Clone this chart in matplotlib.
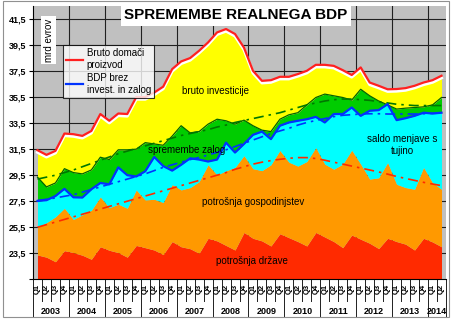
import matplotlib
matplotlib.use("Agg")
import matplotlib.pyplot as plt
import matplotlib.patheffects as pe
from matplotlib.patches import Rectangle
from matplotlib.lines import Line2D
import numpy as np

plt.rcParams["font.family"] = ["Liberation Sans", "DejaVu Sans"]

# --- data (mrd evrov, cumulative levels) ---
years = ["2003", "2004", "2005", "2006", "2007", "2008",
         "2009", "2010", "2011", "2012", "2013", "2014"]
quarters = ["Q1", "Q2", "Q3", "Q4"] * 11 + ["Q1", "Q2"]

# top of "potrošnja države"
drzava = [23.37, 23.2, 22.85, 23.7, 23.55, 23.35, 23.04, 24.0, 23.73, 23.55,
          23.2, 24.1, 23.93, 23.75, 23.4, 24.4, 24.0, 23.85, 23.5, 24.65,
          24.45, 24.1, 23.75, 25.1, 24.65, 24.45, 24.06, 25.0, 24.7, 24.4,
          24.06, 25.1, 24.75, 24.4, 23.93, 24.9, 24.58, 24.27, 23.86, 24.65,
          24.4, 24.2, 23.75, 24.65, 24.37, 24.0]
# top of "potrošnja gospodinjstev"
gospodinjstva = [25.52, 25.85, 26.3, 26.96, 26.1, 26.45, 26.8, 27.83, 27.0, 27.27,
                 26.96, 28.37, 27.6, 27.65, 27.4, 28.78, 28.37, 28.55, 29.0, 30.3,
                 29.52, 29.83, 30.1, 31.0, 30.0, 29.85, 30.3, 31.4, 30.5, 30.2,
                 30.55, 31.62, 30.35, 29.96, 30.35, 31.42, 30.35, 29.2, 29.3, 30.47,
                 28.8, 28.55, 28.42, 30.1, 28.93, 28.42]
# top of "saldo menjave s tujino" = BDP brez invest. in zalog
bdp_brez = [27.52, 27.58, 27.9, 28.45, 27.8, 27.78, 28.42, 28.9, 28.8, 30.1,
            29.5, 29.4, 29.8, 30.9, 30.2, 29.85, 30.3, 30.8, 30.7, 30.55,
            30.7, 32.0, 31.24, 31.9, 32.6, 32.85, 32.27, 33.3, 33.55, 33.68,
            33.8, 33.98, 33.55, 34.2, 34.2, 34.7, 34.06, 34.45, 34.5, 34.96,
            33.73, 33.88, 34.06, 34.3, 34.24, 34.3]
# top of "spremembe zalog"
zaloge = [29.35, 28.6, 28.9, 30.0, 29.7, 29.6, 29.9, 30.88, 30.7, 31.45,
          31.45, 31.5, 32.0, 31.9, 31.8, 32.5, 33.3, 32.75, 32.85, 33.42,
          33.8, 33.68, 33.42, 33.73, 33.3, 32.96, 32.85, 33.8, 34.14, 34.3,
          34.9, 35.47, 35.73, 35.6, 35.47, 35.27, 36.1, 35.6, 35.2, 34.9,
          34.58, 34.65, 34.7, 34.75, 34.9, 35.47]
# Bruto domači proizvod (top of "bruto investicije")
bdp = [31.42, 31.06, 31.37, 32.7, 32.65, 32.52, 32.9, 34.2, 33.68, 34.24,
       34.2, 35.5, 35.5, 35.85, 36.3, 37.65, 38.24, 38.5, 39.06, 39.7,
       40.47, 40.73, 40.35, 39.3, 37.52, 36.75, 36.8, 37.06, 37.06, 37.27,
       37.52, 37.98, 37.98, 37.9, 37.57, 37.2, 37.78, 36.62, 36.37, 36.1,
       36.12, 36.19, 36.37, 36.62, 36.8, 37.14]

# trend lines
trend_gosp = [25.5, 25.7, 25.9, 26.1, 26.3, 26.5, 26.7, 26.9, 27.1, 27.3,
              27.5, 27.7, 27.9, 28.1, 28.3, 28.5, 28.7, 28.9, 29.1, 29.3,
              29.5, 29.7, 29.95, 30.15, 30.35, 30.5, 30.62, 30.72, 30.8, 30.85,
              30.85, 30.78, 30.65, 30.5, 30.35, 30.2, 30.05, 29.9, 29.75, 29.58,
              29.4, 29.25, 29.1, 28.95, 28.82, 28.7]
trend_brez = [27.55, 27.65, 27.75, 27.88, 28.0, 28.2, 28.4, 28.6, 28.8, 29.0,
              29.2, 29.4, 29.6, 29.85, 30.1, 30.3, 30.5, 30.7, 30.86, 31.05,
              31.25, 31.45, 31.7, 31.95, 32.2, 32.45, 32.7, 32.9, 33.1, 33.35,
              33.55, 33.7, 33.85, 34.0, 34.1, 34.15, 34.2, 34.22, 34.22, 34.2,
              34.2, 34.2, 34.2, 34.22, 34.25, 34.28]
trend_zaloge = [29.2, 29.35, 29.5, 29.7, 29.9, 30.15, 30.4, 30.65, 30.9, 31.15,
                31.35, 31.55, 31.75, 31.95, 32.15, 32.35, 32.55, 32.7, 32.85, 33.0,
                33.2, 33.35, 33.55, 33.7, 33.85, 34.0, 34.15, 34.3, 34.5, 34.7,
                34.9, 35.05, 35.2, 35.3, 35.35, 35.35, 35.3, 35.25, 35.15, 35.05,
                34.95, 34.9, 34.85, 34.85, 34.85, 34.85]

x = np.arange(len(quarters))
base = 21.5

fig = plt.figure(figsize=(4.53, 3.21), dpi=100)
fig.patch.set_facecolor("white")
ax = fig.add_axes([33 / 453, 41.7 / 321, 413 / 453, 273.3 / 321])
ax.set_facecolor("#C0C0C0")

ax.fill_between(x, base, drzava, color="#FF2A00", lw=0, zorder=2)
ax.fill_between(x, drzava, gospodinjstva, color="#FF9900", lw=0, zorder=2)
ax.fill_between(x, gospodinjstva, bdp_brez, color="#00FFFF", lw=0, zorder=2)
ax.fill_between(x, bdp_brez, zaloge, color="#00CC00", lw=0, zorder=2)
ax.fill_between(x, zaloge, bdp, color="#FFFF00", lw=0, zorder=2)

ax.plot(x, zaloge, color="#006600", lw=0.9, zorder=3)

dd = (6, 3, 1.5, 3)
ax.plot(x, trend_gosp, color="#FF2A00", lw=1.2, dashes=dd, zorder=4)
ax.plot(x, trend_zaloge, color="#007700", lw=1.2, dashes=dd, zorder=4)
ax.plot(x, trend_brez, color="#0033FF", lw=1.2, dashes=dd, zorder=4)

ax.plot(x, bdp_brez, color="#0033FF", lw=1.6, zorder=5)
ax.plot(x, bdp, color="#FF2020", lw=1.6, zorder=6,
        path_effects=[pe.Stroke(linewidth=2.2, foreground="white", offset=(0, -1.5)),
                      pe.Normal()])

ax.set_xlim(-0.5, len(quarters) - 0.5)
ax.set_ylim(21.5, 42.5)

yt = np.arange(21.5, 42, 2)
ax.set_yticks(yt)
ax.set_yticklabels([""] + [f"{v:.1f}".replace(".", ",") for v in yt[1:]],
                   fontsize=6.5, fontweight="bold")
ax.tick_params(axis="y", length=3, width=0.8, pad=2)
ax.set_xticks([])
for v in yt[1:]:
    ax.axhline(v, color="#202020", lw=0.8, zorder=1)
for k in range(1, len(years)):
    ax.axvline(4 * k - 0.5, color="#202020", lw=0.8, zorder=1)

for s in ["top", "right"]:
    ax.spines[s].set_visible(False)
ax.spines["left"].set_linewidth(0.8)
ax.spines["bottom"].set_linewidth(0.8)

# category axis (quarters and years)
tr = ax.get_xaxis_transform()
for i, q in enumerate(quarters):
    ax.text(i, -0.035, q, transform=tr, rotation=90, ha="center", va="center",
            fontsize=5.5, fontweight="bold", clip_on=False)
for i in range(len(quarters) + 1):
    low = -0.138 if i % 4 == 0 or i == len(quarters) else -0.079
    ax.add_line(Line2D([i - 0.5, i - 0.5], [0, low], transform=tr,
                       color="#202020", lw=0.7, clip_on=False))
for k, yr in enumerate(years):
    ax.text(min(4 * k + 1.5, len(quarters) - 1.5), -0.116, yr, transform=tr,
            ha="center", va="center", fontsize=6.5, fontweight="bold", clip_on=False)

# texts
def px(xp, yp):
    return xp / 453, 1 - yp / 321

fig.text(*px(236, 15), "SPREMEMBE REALNEGA BDP", ha="center", va="center",
         fontsize=11, fontweight="bold",
         bbox=dict(facecolor="white", edgecolor="none", pad=2.5))
fig.text(*px(48.5, 40), "mrd evrov", rotation=90, ha="center", va="center",
         fontsize=7, bbox=dict(facecolor="white", edgecolor="none", pad=1.5))

labels = [
    ((216, 91), "bruto investicije"),
    ((187, 150), "spremembe zalog"),
    ((402, 145), "saldo menjave s\ntujino"),
    ((253, 202), "potrošnja gospodinjstev"),
    ((252, 261), "potrošnja države"),
]
for (xp, yp), t in labels:
    fig.text(*px(xp, yp), t, ha="center", va="center", fontsize=7,
             linespacing=1.3)

handles = [Line2D([], [], color="#FF2020", lw=1.6),
           Line2D([], [], color="#0033FF", lw=1.6)]
leg = fig.legend(handles, ["Bruto domači\nproizvod", "BDP brez\ninvest. in zalog"],
                 loc="upper left", bbox_to_anchor=px(63, 45), fontsize=7,
                 frameon=True, fancybox=False, handlelength=1.7,
                 handletextpad=0.4, borderpad=0.35, labelspacing=0.3,
                 borderaxespad=0)
leg.get_frame().set_edgecolor("black")
leg.get_frame().set_linewidth(0.8)

fig.patches.append(Rectangle((3 / 453, 4 / 321), 446 / 453, 316 / 321,
                             transform=fig.transFigure, fill=False,
                             edgecolor="#909090", lw=0.8))

fig.savefig("out.png", dpi=100)
